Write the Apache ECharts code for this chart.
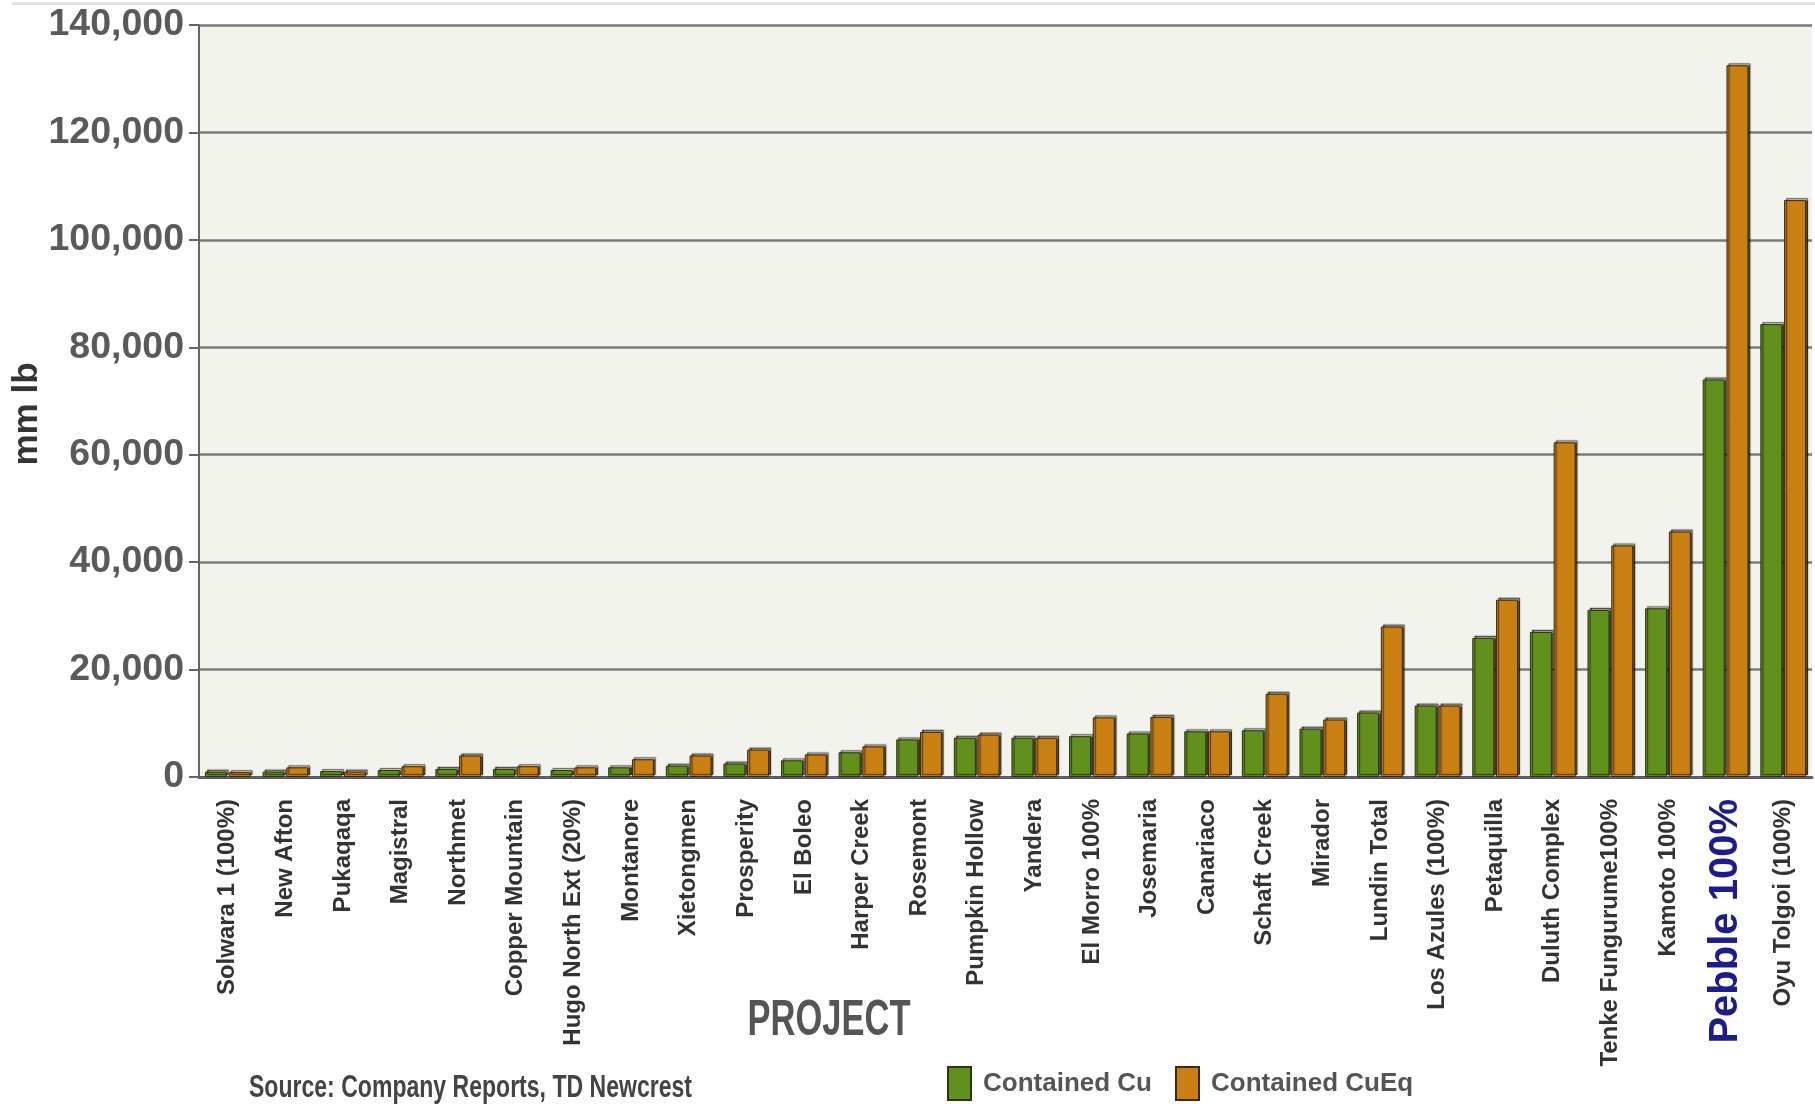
<!DOCTYPE html>
<html>
<head>
<meta charset="utf-8">
<title>Contained copper by project</title>
<script src="https://cdn.jsdelivr.net/npm/echarts@6/dist/echarts.min.js"></script>
<style>
  html, body { margin: 0; padding: 0; background: #fff; }
  #chart { width: 1815px; height: 1104px; }
</style>
</head>
<body>
<div id="chart"></div>
<script>
// projects, left to right
const projects = [
  'Solwara 1 (100%)', 'New Afton', 'Pukaqaqa', 'Magistral', 'Northmet',
  'Copper Mountain', 'Hugo North Ext (20%)', 'Montanore', 'Xietongmen', 'Prosperity',
  'El Boleo', 'Harper Creek', 'Rosemont', 'Pumpkin Hollow', 'Yandera',
  'El Morro 100%', 'Josemaria', 'Canariaco', 'Schaft Creek', 'Mirador',
  'Lundin Total', 'Los Azules (100%)', 'Petaquilla', 'Duluth Complex', 'Tenke Fungurume100%',
  'Kamoto 100%', 'Pebble 100%', 'Oyu Tolgoi (100%)'
];

// mm lb
const containedCu = [
  1000, 1000, 1100, 1300, 1500, 1500, 1300, 1800, 2100, 2500,
  3100, 4600, 7000, 7300, 7300, 7600, 8100, 8500, 8700, 9000,
  12000, 13300, 25900, 27000, 31100, 31400, 74000, 84300
];
const containedCuEq = [
  900, 1800, 1000, 2000, 4000, 2000, 1800, 3300, 4000, 5100,
  4200, 5700, 8400, 7900, 7300, 11100, 11200, 8500, 15500, 10700,
  28000, 13300, 33000, 62300, 43100, 45700, 132500, 107400
];

const yMin = 0;
const yMax = 140000;
const yStep = 20000;
const highlighted = 'Pebble 100%';

const sans = '"Liberation Sans", Arial, sans-serif';

const chart = echarts.init(document.getElementById('chart'));

const option = {
  backgroundColor: '#ffffff',
  animation: false,
  grid: {
    left: 199,
    right: 3,
    top: 25,
    bottom: 327,
    outerBoundsMode: 'none', // keep the plot where it is, labels are placed by hand
    show: true,
    backgroundColor: '#f3f3ee',
    borderWidth: 0
  },
  legend: {
    left: 942,
    top: 1061,
    itemWidth: 23,
    itemHeight: 33,
    itemGap: 23,
    icon: 'rect',
    textStyle: {
      fontFamily: sans,
      fontSize: 26,
      fontWeight: 'bold',
      color: '#555',
      padding: [8, 0, 0, 7]
    },
    data: ['Contained Cu', 'Contained CuEq']
  },
  graphic: [
    {
      type: 'rect',
      shape: { x: 12, y: 2, width: 1803, height: 3 },
      style: { fill: '#e2e2e2' }
    },
    {
      // condensed look: squeeze a normal bold face
      type: 'text',
      x: 829,
      y: 1021,
      scaleX: 0.69,
      style: {
        text: 'PROJECT',
        align: 'center',
        verticalAlign: 'middle',
        font: 'bold 50px ' + sans,
        fill: '#555'
      }
    },
    {
      type: 'text',
      x: 249,
      y: 1088,
      scaleX: 0.72,
      style: {
        text: 'Source: Company Reports, TD Newcrest',
        align: 'left',
        verticalAlign: 'middle',
        font: 'bold 32px ' + sans,
        fill: '#444'
      }
    }
  ],
  xAxis: {
    type: 'category',
    data: projects,
    axisTick: { show: false },
    axisLine: { lineStyle: { color: '#5c5c68', width: 3 } },
    axisLabel: {
      interval: 0,
      rotate: 90,
      margin: 22,
      fontFamily: sans,
      fontSize: 24,
      fontWeight: 'bold',
      color: '#333',
      formatter: v => (v === highlighted ? '{hl|' + v + '}' : v),
      rich: {
        hl: {
          fontFamily: sans,
          fontSize: 40,
          fontWeight: 900,
          color: '#1c1c8c'
        }
      }
    }
  },
  yAxis: {
    type: 'value',
    min: yMin,
    max: yMax,
    interval: yStep,
    name: 'mm lb',
    nameLocation: 'middle',
    nameGap: 154,
    nameMoveOverlap: false,
    nameTextStyle: {
      fontFamily: sans,
      fontSize: 35,
      fontWeight: 'bold',
      color: '#353535',
      padding: [0, 26, 0, 0]
    },
    axisLine: { show: true, lineStyle: { color: '#666', width: 2 } },
    axisTick: { show: true, length: 10, lineStyle: { color: '#666', width: 2 } },
    axisLabel: {
      margin: 15,
      fontFamily: sans,
      fontSize: 37.5,
      fontWeight: 'bold',
      color: '#5a5a5a',
      formatter: v => v.toLocaleString('en-US')
    },
    splitLine: { lineStyle: { color: '#7a7a7a', width: 2.5 } }
  },
  series: [
    {
      name: 'Contained Cu',
      type: 'bar',
      data: containedCu,
      barWidth: 22,
      barGap: '8%',
      itemStyle: {
        color: '#62901c',
        borderColor: '#2f3318',
        borderWidth: 1,
        shadowColor: 'rgba(30,25,10,0.75)',
        shadowOffsetX: 2,
        shadowOffsetY: -2,
        shadowBlur: 1
      }
    },
    {
      name: 'Contained CuEq',
      type: 'bar',
      data: containedCuEq,
      barWidth: 22,
      itemStyle: {
        color: '#c97f12',
        borderColor: '#3a2a10',
        borderWidth: 1,
        shadowColor: 'rgba(30,25,10,0.75)',
        shadowOffsetX: 2,
        shadowOffsetY: -2,
        shadowBlur: 1
      }
    }
  ]
};

chart.setOption(option);
window.addEventListener('resize', chart.resize);
</script>
</body>
</html>
